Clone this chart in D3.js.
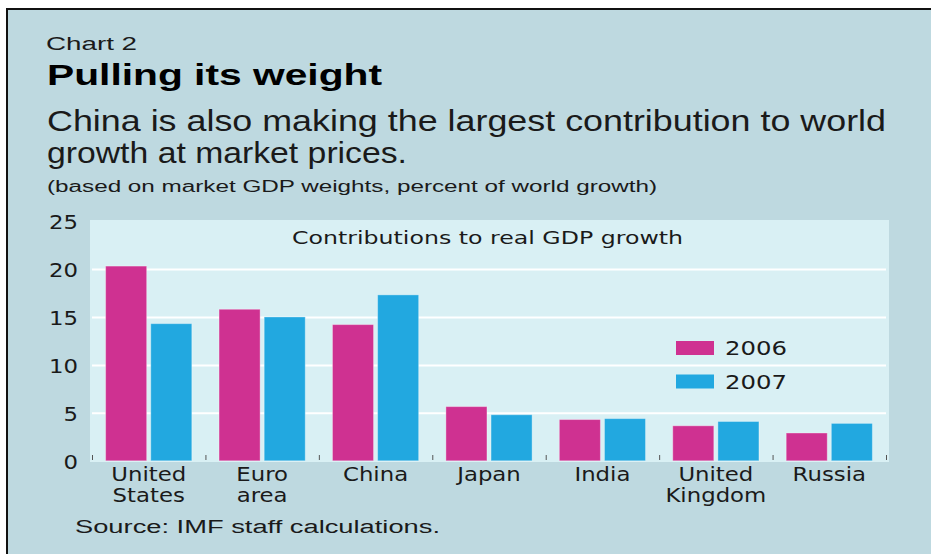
<!DOCTYPE html>
<html lang="en">
  <head>
    <meta charset="utf-8" />
    <title>Pulling its weight</title>
    <script src="https://cdn.jsdelivr.net/npm/d3@7"></script>
    <style>
      body { margin: 0; background: #fff; }
      svg { display: block; }
    </style>
  </head>
  <body>
    <script>
      // data
      var categories = [
        ["United", "States"],
        ["Euro", "area"],
        ["China"],
        ["Japan"],
        ["India"],
        ["United", "Kingdom"],
        ["Russia"],
      ];
      var years = ["2006", "2007"];
      var values2006 = [20.3, 15.8, 14.2, 5.65, 4.3, 3.65, 2.9];
      var values2007 = [14.3, 15.0, 17.3, 4.8, 4.4, 4.1, 3.9];
      var yTicks = [0, 5, 10, 15, 20, 25];

      var w = 931;
      var h = 554;
      var colors = { "2006": "#cf3191", "2007": "#22a8e0" };
      var headFont = "'Liberation Sans', Arial, sans-serif";
      var axisFont = "'DejaVu Sans', sans-serif";

      var svg = d3.select("body").append("svg").attr("width", w).attr("height", h);

      // squeeze or stretch a text to the width seen in the picture
      function fit(sel, width) {
        sel.attr("textLength", width).attr("lengthAdjust", "spacingAndGlyphs");
      }
      function widen(sel, k) {
        sel.each(function () {
          var len = this.getComputedTextLength();
          d3.select(this).attr("textLength", len * k).attr("lengthAdjust", "spacingAndGlyphs");
        });
      }

      // panel
      svg.append("rect").attr("x", 7).attr("y", 9).attr("width", w - 7).attr("height", h - 9)
        .attr("fill", "#bed9e0");
      svg.append("line").attr("x1", 6).attr("x2", w).attr("y1", 9).attr("y2", 9)
        .attr("stroke", "#111").attr("stroke-width", 2);
      svg.append("line").attr("x1", 7).attr("x2", 7).attr("y1", 9).attr("y2", h)
        .attr("stroke", "#111").attr("stroke-width", 2);

      // headings
      svg.append("text").attr("x", 46).attr("y", 50).text("Chart 2")
        .attr("font-family", headFont).attr("font-size", 18).attr("fill", "#1a1a1a")
        .call(fit, 91);
      svg.append("text").attr("x", 47).attr("y", 85).text("Pulling its weight")
        .attr("font-family", headFont).attr("font-size", 30).attr("font-weight", "bold")
        .attr("fill", "#000").call(fit, 335);
      svg.append("text").attr("x", 47).attr("y", 131)
        .text("China is also making the largest contribution to world")
        .attr("font-family", headFont).attr("font-size", 29).attr("fill", "#1a1a1a")
        .call(fit, 839);
      svg.append("text").attr("x", 47).attr("y", 163).text("growth at market prices.")
        .attr("font-family", headFont).attr("font-size", 29).attr("fill", "#1a1a1a")
        .call(fit, 360);
      svg.append("text").attr("x", 47).attr("y", 192)
        .text("(based on market GDP weights, percent of world growth)")
        .attr("font-family", headFont).attr("font-size", 16).attr("fill", "#1a1a1a")
        .call(fit, 610);
      svg.append("text").attr("x", 75).attr("y", 533).text("Source: IMF staff calculations.")
        .attr("font-family", headFont).attr("font-size", 18).attr("fill", "#1a1a1a")
        .call(fit, 365);

      // plot area
      var plotL = 90, plotR = 889, plotT = 220, plotB = 462;
      svg.append("rect").attr("x", plotL).attr("y", plotT)
        .attr("width", plotR - plotL).attr("height", plotB - plotT).attr("fill", "#d9f0f4");

      var x0 = d3.scaleBand().domain(d3.range(categories.length)).range([92, 886])
        .paddingInner(0.24).paddingOuter(0.12);
      var x1 = d3.scaleBand().domain(years).range([0, x0.bandwidth()]).paddingInner(0.09);
      var y = d3.scaleLinear().domain([0, 25]).range([460.8, 221]);

      // gridlines
      svg.append("g").attr("transform", "translate(92,0)")
        .call(d3.axisLeft(y).tickValues(yTicks.filter(function (d) { return d > 0 && d < 25; }))
          .tickSize(-(886 - 92)).tickFormat(""))
        .call(function (g) {
          g.select(".domain").remove();
          g.selectAll("line").attr("stroke", "#fff").attr("stroke-width", 2);
        });

      // y labels
      svg.append("g").attr("transform", "translate(78,0)")
        .call(d3.axisLeft(y).tickValues(yTicks).tickSize(0).tickPadding(0))
        .call(function (g) {
          g.select(".domain").remove();
          g.selectAll("text").attr("font-family", axisFont).attr("font-size", 19)
            .attr("fill", "#1a1a1a").attr("dy", "0.4em").call(widen, 1.2);
        });

      // bars
      var series = [values2006, values2007];
      var groups = svg.append("g").selectAll("g").data(categories).enter().append("g")
        .attr("transform", function (d, i) { return "translate(" + x0(i) + ",0)"; });
      groups.selectAll("rect")
        .data(function (d, i) {
          return years.map(function (yr, j) { return { year: yr, value: series[j][i] }; });
        })
        .enter().append("rect")
        .attr("x", function (d) { return x1(d.year); })
        .attr("y", function (d) { return y(d.value); })
        .attr("width", x1.bandwidth())
        .attr("height", function (d) { return y(0) - y(d.value); })
        .attr("fill", function (d) { return colors[d.year]; })
        .attr("stroke", "#fff").attr("stroke-opacity", 0.35).attr("stroke-width", 1);

      // little category ticks along the base
      var step = x0.step();
      svg.append("g").selectAll("line").data(d3.range(categories.length + 1)).enter()
        .append("line")
        .attr("x1", function (i) { return 92.5 + i * step; })
        .attr("x2", function (i) { return 92.5 + i * step; })
        .attr("y1", 455).attr("y2", 460)
        .attr("stroke", "#555").attr("stroke-width", 1);

      // category labels
      var labels = svg.append("g").selectAll("text").data(categories).enter().append("text")
        .attr("text-anchor", "middle")
        .attr("font-family", axisFont).attr("font-size", 19).attr("fill", "#1a1a1a");
      labels.selectAll("tspan").data(function (d) { return d; }).enter().append("tspan")
        .attr("x", function () {
          var i = categories.indexOf(d3.select(this.parentNode).datum());
          return x0(i) + x0.bandwidth() / 2;
        })
        .attr("y", function (d, j) { return 481 + j * 21; })
        .text(function (d) { return d; })
        .call(widen, 1.2);

      // inner title
      svg.append("text").attr("x", (plotL + plotR) / 2 - 2).attr("y", 244)
        .attr("text-anchor", "middle").text("Contributions to real GDP growth")
        .attr("font-family", axisFont).attr("font-size", 18.5).attr("fill", "#1a1a1a")
        .call(fit, 391);

      // legend
      var legend = svg.append("g").selectAll("g").data(years).enter().append("g")
        .attr("transform", function (d, i) { return "translate(676," + (341 + i * 33.5) + ")"; });
      legend.append("rect").attr("width", 38).attr("height", 14)
        .attr("fill", function (d) { return colors[d]; });
      legend.append("text").attr("x", 49).attr("y", 14).text(function (d) { return d; })
        .attr("font-family", axisFont).attr("font-size", 20).attr("fill", "#1a1a1a")
        .call(fit, 62);
    </script>
  </body>
</html>
